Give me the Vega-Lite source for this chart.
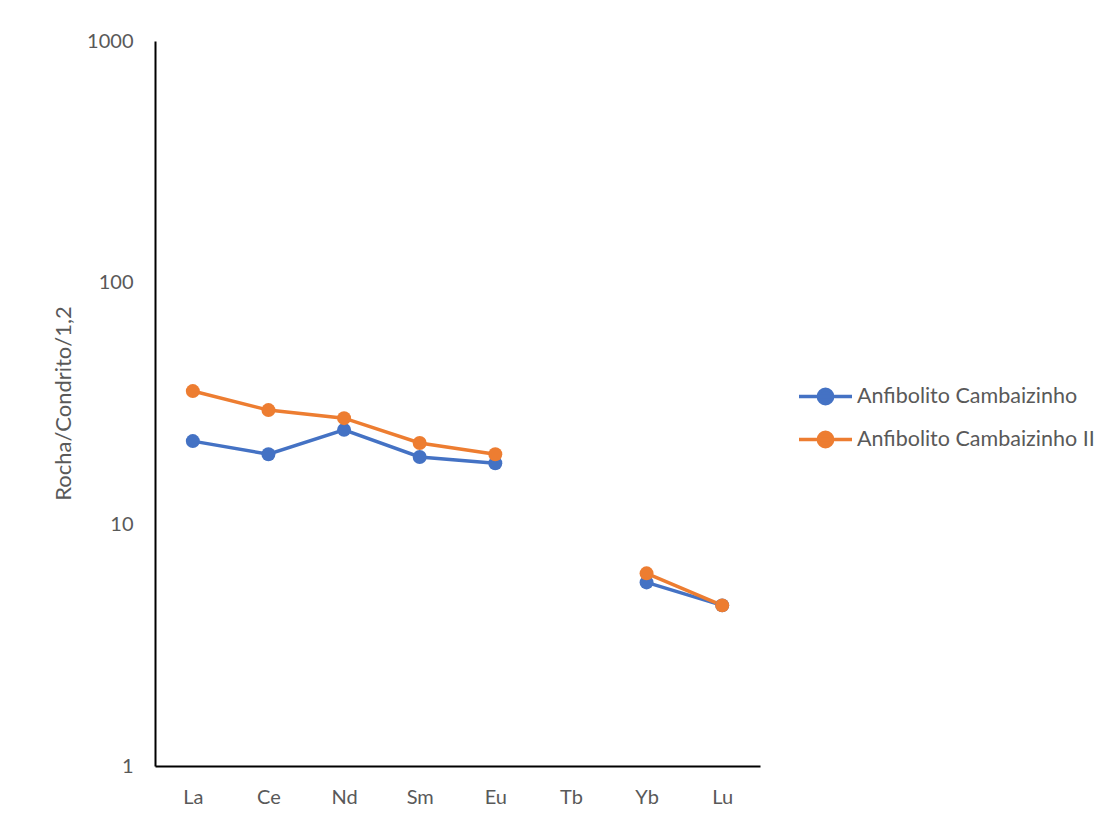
{
  "$schema": "https://vega.github.io/schema/vega-lite/v6.json",
  "width": 605,
  "height": 725,
  "autosize": {"type": "none"},
  "padding": {"left": 155, "top": 41, "right": 358, "bottom": 54},
  "background": "white",
  "config": {
    "view": {"stroke": null},
    "font": "Lato"
  },
  "data": {
    "values": [
      {"element": "La", "series": "Anfibolito Cambaizinho", "value": 22.1},
      {"element": "Ce", "series": "Anfibolito Cambaizinho", "value": 19.5},
      {"element": "Nd", "series": "Anfibolito Cambaizinho", "value": 24.6},
      {"element": "Sm", "series": "Anfibolito Cambaizinho", "value": 19.0},
      {"element": "Eu", "series": "Anfibolito Cambaizinho", "value": 17.9},
      {"element": "Tb", "series": "Anfibolito Cambaizinho", "value": null},
      {"element": "Yb", "series": "Anfibolito Cambaizinho", "value": 5.75},
      {"element": "Lu", "series": "Anfibolito Cambaizinho", "value": 4.62},
      {"element": "La", "series": "Anfibolito Cambaizinho II", "value": 35.6},
      {"element": "Ce", "series": "Anfibolito Cambaizinho II", "value": 29.7},
      {"element": "Nd", "series": "Anfibolito Cambaizinho II", "value": 27.5},
      {"element": "Sm", "series": "Anfibolito Cambaizinho II", "value": 21.7},
      {"element": "Eu", "series": "Anfibolito Cambaizinho II", "value": 19.5},
      {"element": "Tb", "series": "Anfibolito Cambaizinho II", "value": null},
      {"element": "Yb", "series": "Anfibolito Cambaizinho II", "value": 6.27},
      {"element": "Lu", "series": "Anfibolito Cambaizinho II", "value": 4.62}
    ]
  },
  "encoding": {
    "x": {
      "field": "element",
      "type": "nominal",
      "sort": ["La", "Ce", "Nd", "Sm", "Eu", "Tb", "Yb", "Lu"],
      "scale": {"domain": ["La", "Ce", "Nd", "Sm", "Eu", "Tb", "Yb", "Lu"], "paddingInner": 0, "paddingOuter": 0.5},
      "axis": {
        "title": null,
        "labelAngle": 0,
        "labelFont": "Lato",
        "labelFontSize": 20,
        "labelColor": "#595959",
        "labelPadding": 21,
        "ticks": false,
        "domainColor": "#000000",
        "domainWidth": 2,
        "grid": false
      }
    },
    "y": {
      "field": "value",
      "type": "quantitative",
      "scale": {"type": "log", "domain": [1, 1000], "nice": false},
      "axis": {
        "title": "Rocha/Condrito/1,2",
        "titleFont": "Lato",
        "titleFontSize": 22,
        "titleFontWeight": "normal",
        "titleColor": "#595959",
        "titleX": -92,
        "titleY": 362,
        "titleAngle": -90,
        "titleAlign": "center",
        "titleBaseline": "middle",
        "values": [1, 10, 100, 1000],
        "format": "d",
        "labelFont": "Lato",
        "labelFontSize": 20,
        "labelColor": "#595959",
        "labelPadding": 22,
        "ticks": false,
        "domainColor": "#000000",
        "domainWidth": 2,
        "grid": false
      }
    },
    "color": {
      "field": "series",
      "type": "nominal",
      "scale": {"domain": ["Anfibolito Cambaizinho", "Anfibolito Cambaizinho II"], "range": ["#4472C4", "#ED7D31"]},
      "legend": {
        "title": null,
        "orient": "none",
        "legendX": 642,
        "legendY": 327,
        "labelFont": "Lato",
        "labelFontSize": 21.5,
        "labelColor": "#595959",
        "labelLimit": 0,
        "labelOffset": 3,
        "rowPadding": -9,
        "symbolType": "M-1,0H1M-0.27,0A0.27,0.27 0 1,1 0.27,0A0.27,0.27 0 1,1 -0.27,0Z",
        "symbolSize": 2809,
        "symbolStrokeWidth": 3.5,
        "encode": {
          "symbols": {
            "update": {
              "fill": {"scale": "color", "field": "value"},
              "stroke": {"scale": "color", "field": "value"}
            }
          }
        }
      }
    }
  },
  "layer": [
    {
      "mark": {"type": "line", "strokeWidth": 3.5, "invalid": "break-paths-filter-domains"}
    },
    {
      "mark": {"type": "point", "filled": true, "size": 195, "opacity": 1, "shape": "circle", "invalid": "filter"}
    }
  ]
}
